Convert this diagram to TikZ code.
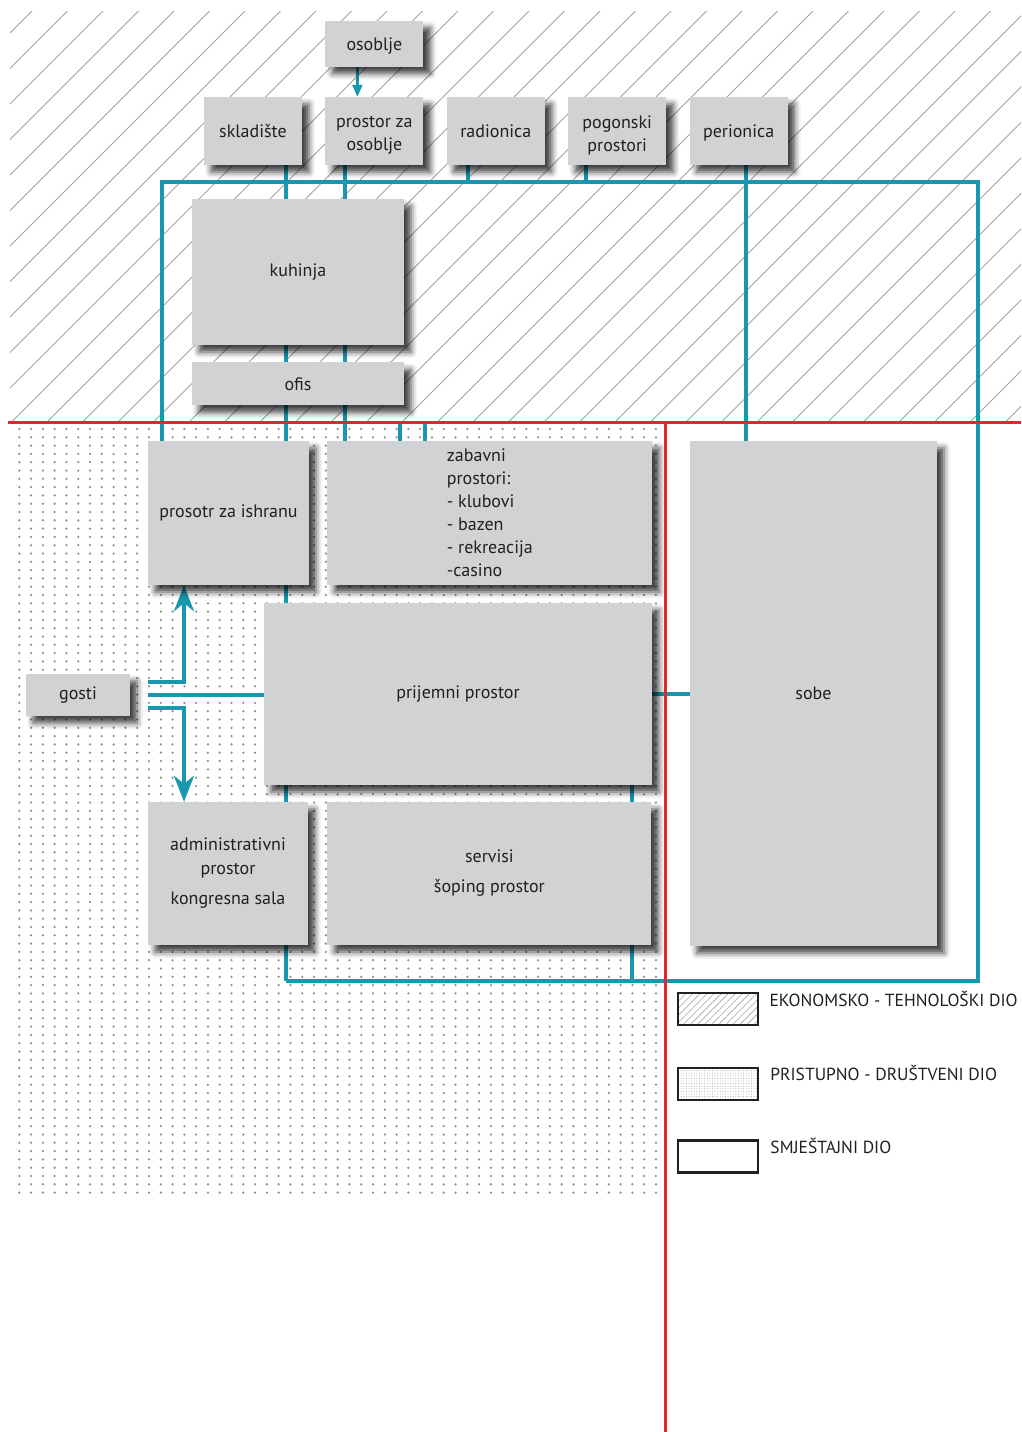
\documentclass[tikz,border=0pt]{standalone}
\usepackage{fontspec}
\setmainfont{PT Sans}
\usetikzlibrary{positioning}
\usetikzlibrary{arrows.meta}
\usetikzlibrary{shadows.blur}
\usetikzlibrary{patterns.meta}

\definecolor{boxgray}{HTML}{D1D2D4}
\definecolor{ink}{HTML}{231F20}
\definecolor{linkteal}{HTML}{1997AF}
\definecolor{zonered}{HTML}{E2262D}
\definecolor{hatchgray}{HTML}{A3A3A3}
\definecolor{dotgray}{HTML}{8E8E8E}

\pgfdeclarelayer{zones}
\pgfdeclarelayer{links}
\pgfsetlayers{zones,links,main}

\tikzset{
  room/.style={fill=boxgray, text=ink, inner sep=0pt, align=center,
    font=\fontsize{18}{23}\selectfont,
    blur shadow={shadow xshift=7pt, shadow yshift=-7pt, shadow blur radius=6pt, shadow opacity=75}},
  top_room/.style={room, minimum width=98pt, minimum height=68pt},
  link/.style={draw=linkteal, line width=4pt},
  flow/.style={link, -{Stealth[length=26pt, width=20pt, inset=8pt]}},
  staff_flow/.style={draw=linkteal, line width=2.5pt, -{Triangle[length=12pt, width=10pt]}},
  zone/.style={draw=zonered, line width=3pt},
  hatch/.style={draw=hatchgray, line width=0.8pt},
  key/.style={draw=ink, line width=2.5pt, minimum width=80pt, minimum height=32pt, inner sep=0pt},
  key_text/.style={text=ink, inner sep=0pt, font=\fontsize{17.5}{20}\selectfont, anchor=base west},
}
\newcommand{\lowered}[1]{\raisebox{-4pt}[\height][\depth]{\parbox{90pt}{\centering #1}}}

\begin{document}
\begin{tikzpicture}[x=1pt, y=-1pt, node distance=23pt]
    \useasboundingbox (0,0) rectangle (1021,1432);
% economy & technology rooms
    \node[top_room] at (253,131) (skladiste) {skladište} ; %
    \node[top_room, right=of skladiste] (prostor_osoblje) {\lowered{prostor za\\osoblje}} ; %
    \node[top_room, right=of prostor_osoblje] (radionica) {radionica} ; %
    \node[top_room, right=of radionica] (pogonski) {\lowered{pogonski\\prostori}} ; %
    \node[top_room, right=of pogonski] (perionica) {\raisebox{-2pt}[\height][\depth]{perionica}} ; %
    \node[room, above=30pt of prostor_osoblje, minimum width=98pt, minimum height=46pt] (osoblje) {\raisebox{-2pt}[\height][\depth]{osoblje}} ; %
    \node[room, minimum width=212pt, minimum height=146pt] at (298,272) (kuhinja) {kuhinja} ; %
    \node[room, below=17pt of kuhinja, minimum width=212pt, minimum height=43pt] (ofis) {ofis} ; %
% social rooms
    \node[room, minimum width=161pt, minimum height=144pt] at (228.5,513) (ishrana) {prosotr za ishranu} ; %
    \node[room, right=18pt of ishrana, minimum width=325pt, minimum height=144pt, align=left] (zabavni) {zabavni\\prostori:\\- klubovi\\- bazen\\- rekreacija\\-casino} ; %
    \node[room, minimum width=388pt, minimum height=182pt] at (458,694) (prijemni) {prijemni prostor} ; %
    \node[room, minimum width=104pt, minimum height=42pt] at (78,695) (gosti) {gosti} ; %
    \node[room, minimum width=160pt, minimum height=143pt] at (228,873.5) (admin) {administrativni\\[1pt]prostor\\[7pt]kongresna sala} ; %
    \node[room, right=19pt of admin, minimum width=324pt, minimum height=143pt] (servisi) {servisi\\[7pt]šoping prostor} ; %
% accommodation
    \node[room, minimum width=247pt, minimum height=505pt] at (813.5,693.5) (sobe) {sobe} ; %
% legend
    \node[key, pattern={Lines[angle=45, distance=5pt, line width=0.6pt]}, pattern color=hatchgray] at (718,1009) (key_eko) {} ; %
    \node[key, pattern={Dots[distance=2.6pt, radius=0.45pt]}, pattern color=dotgray] at (718,1084) (key_pristup) {} ; %
    \node[key] at (718,1156.5) (key_smjestaj) {} ; %
    \node[key_text] at ([xshift=11pt, yshift=-14pt]key_eko.north east) (key_eko_text) {EKONOMSKO - TEHNOLOŠKI DIO} ; %
    \node[key_text] at ([xshift=11pt, yshift=-14pt]key_pristup.north east) (key_pristup_text) {PRISTUPNO - DRUŠTVENI DIO} ; %
    \node[key_text] at ([xshift=11pt, yshift=-14pt]key_smjestaj.north east) (key_smjestaj_text) {SMJEŠTAJNI DIO} ; %
% bus corners and taps
    \coordinate (bus_nw) at (162,182) ; %
    \coordinate (bus_ne) at (978,182) ; %
    \coordinate (bus_sw) at (286,981) ; %
    \coordinate (bus_shop) at (632,981) ; %
    \coordinate (store_out) at ([xshift=33pt]skladiste.south) ; %
    \coordinate (staff_out) at ([xshift=-29pt]prostor_osoblje.south) ; %
    \coordinate (shop_out) at ([xshift=-28pt]radionica.south) ; %
    \coordinate (plant_out) at ([xshift=-31pt]pogonski.south) ; %
    \coordinate (laundry_out) at ([xshift=7pt]perionica.south) ; %
    \coordinate (stub_a) at (400,422) ; %
    \coordinate (stub_b) at (425,422) ; %
    \coordinate (gate) at (184,695) ; %
% edges
    \begin{pgfonlayer}{links}
    \draw[link] (ishrana.north -| bus_nw) -- (bus_nw) -- (bus_ne) |- (bus_sw) ; %
    \draw[link] (store_out) -- (bus_sw) ; %
    \draw[link] (staff_out) -- (staff_out |- zabavni.north) ; %
    \draw[link] (shop_out) -- (shop_out |- bus_nw) ; %
    \draw[link] (plant_out) -- (plant_out |- bus_nw) ; %
    \draw[link] (laundry_out) -- (laundry_out |- sobe.north) ; %
    \draw[link] (stub_a) -- (stub_a |- zabavni.north) ; %
    \draw[link] (stub_b) -- (stub_b |- zabavni.north) ; %
    \draw[link] (prijemni.south -| bus_shop) -- (bus_shop) ; %
    \draw[link] (prijemni.east) -- (sobe.west |- prijemni.east) ; %
    \draw[link] ([xshift=18pt]gosti.east) -- (prijemni.west |- gosti.east) ; %
    \draw[flow] ([shift={(18pt,13pt)}]gosti.east) -| (gate |- ishrana.south) ; %
    \draw[flow] ([shift={(18pt,-13pt)}]gosti.east) -| (gate |- admin.north) ; %
    \draw[staff_flow] ([xshift=-17pt]osoblje.south) -- ([xshift=-17pt]prostor_osoblje.north) ; %
    \end{pgfonlayer}
% zones
    \begin{pgfonlayer}{zones}
    \begin{scope}
      \clip (10,11) rectangle (1021,422);
      \foreach \c in {-1,...,40}
        \draw[hatch] ({43+35.5*\c},0) -- ++(-450,450);
    \end{scope}
    \foreach \i in {0,...,54}
      \foreach \j in {0,...,92}
        \fill[dotgray] ({19.3+11.79*\i},{429+8.3*\j}) circle (1.25pt);
    \end{pgfonlayer}
    \draw[zone] (8,422) -- (1021,422) ; %
    \draw[zone] (665,422) -- (665,1432) ; %
\end{tikzpicture}
\end{document}
